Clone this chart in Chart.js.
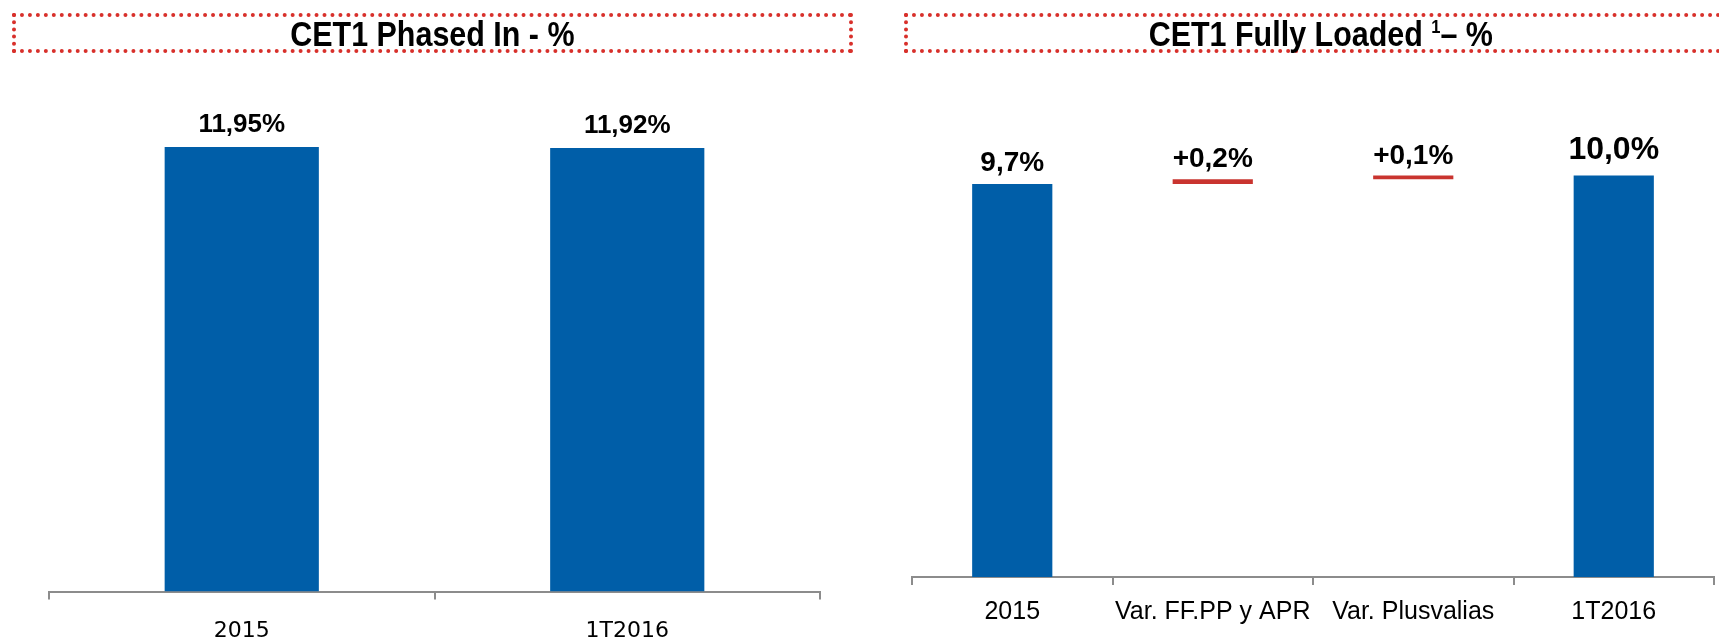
<!DOCTYPE html>
<html>
<head>
<meta charset="utf-8">
<script src="https://cdn.jsdelivr.net/npm/chart.js@4.4.0/dist/chart.umd.min.js"></script>
<style>
html,body{margin:0;padding:0;background:#fff;width:1719px;height:642px;overflow:hidden;position:relative;}
.box{position:absolute;top:13px;height:32px;border:4px dotted #D8302B;font:bold 35px "Liberation Sans",Arial,sans-serif;color:#000;text-align:center;line-height:34px;z-index:2;white-space:nowrap;}
.box span{display:inline-block;transform:scaleX(0.87);transform-origin:center;}
.box sup{font-size:19px;vertical-align:top;line-height:20px;}
#b1{left:12px;width:833px;}
#b2{left:904px;width:825px;}
#c1{position:absolute;left:0;top:0;}
#c2{position:absolute;left:860px;top:0;}
</style>
</head>
<body>
<div class="box" id="b1"><span>CET1 Phased In - %</span></div>
<div class="box" id="b2"><span>CET1 Fully Loaded <sup>1</sup>– %</span></div>
<canvas id="c1" width="860" height="662"></canvas>
<canvas id="c2" width="859" height="642"></canvas>
<script>
// ---- Data: CET1 Phased In ----
const phasedCategories = ['2015', '1T2016'];
const phasedValues = [11.95, 11.92];
const phasedLabels = ['11,95%', '11,92%'];

// ---- Data: CET1 Fully Loaded (waterfall) ----
const fullyCategories = ['2015', 'Var. FF.PP y APR', 'Var. Plusvalias', '1T2016'];
const fullyStarts = [0, 9.70, 9.82, 0];
const fullyEnds = [9.70, 9.82, 9.91, 9.91];
const fullyLabels = ['9,7%', '+0,2%', '+0,1%', '10,0%'];

const BLUE = '#005EA8';
const RED = '#C9342F';
const AXIS = '#8C8C8C';

const valueLabels = {
  id: 'valueLabels',
  afterDatasetsDraw(chart, args, opts) {
    const ctx = chart.ctx;
    const meta = chart.getDatasetMeta(0);
    meta.data.forEach((el, i) => {
      const top = Math.min(el.y, el.base);
      ctx.save();
      ctx.font = 'bold ' + opts.sizes[i] + 'px "Liberation Sans", Arial, sans-serif';
      ctx.fillStyle = '#000';
      ctx.textAlign = 'center';
      ctx.textBaseline = 'alphabetic';
      ctx.fillText(opts.labels[i], el.x, top - opts.gaps[i]);
      ctx.restore();
    });
  }
};

function xScale(fontFamily, fontSize, pad) {
  return {
    offset: true,
    grid: { display: true, drawOnChartArea: false, drawTicks: true, tickLength: 8, color: AXIS, lineWidth: 2, offset: true },
    border: { display: true, color: AXIS, width: 2 },
    ticks: { color: '#000', padding: pad, maxRotation: 0, minRotation: 0, autoSkip: false, font: { family: fontFamily, size: fontSize } }
  };
}

new Chart(document.getElementById('c1'), {
  type: 'bar',
  data: {
    labels: phasedCategories,
    datasets: [{
      data: phasedValues,
      backgroundColor: BLUE,
      barPercentage: 0.4,
      categoryPercentage: 1.0
    }]
  },
  options: {
    responsive: false,
    animation: false,
    devicePixelRatio: 1,
    layout: { padding: { left: 49, right: 40, top: 80, bottom: 0 } },
    plugins: {
      legend: { display: false },
      tooltip: { enabled: false },
      valueLabels: { labels: phasedLabels, sizes: [26, 26], gaps: [15, 15] }
    },
    scales: {
      x: xScale('"DejaVu Sans"', 22, 18),
      y: { display: false, min: 0, max: 13.75 }
    }
  },
  plugins: [valueLabels]
});

new Chart(document.getElementById('c2'), {
  type: 'bar',
  data: {
    labels: fullyCategories,
    datasets: [{
      data: fullyStarts.map((s, i) => [s, fullyEnds[i]]),
      backgroundColor: [BLUE, RED, RED, BLUE],
      barPercentage: 0.4,
      categoryPercentage: 1.0
    }]
  },
  options: {
    responsive: false,
    animation: false,
    devicePixelRatio: 1,
    layout: { padding: { left: 52, right: 5, top: 80, bottom: 3 } },
    plugins: {
      legend: { display: false },
      tooltip: { enabled: false },
      valueLabels: { labels: fullyLabels, sizes: [28, 28, 28, 32], gaps: [13, 12, 12, 17] }
    },
    scales: {
      x: xScale('"Liberation Sans"', 25, 12),
      y: { display: false, min: 0, max: 12.27 }
    }
  },
  plugins: [valueLabels]
});
</script>
</body>
</html>
